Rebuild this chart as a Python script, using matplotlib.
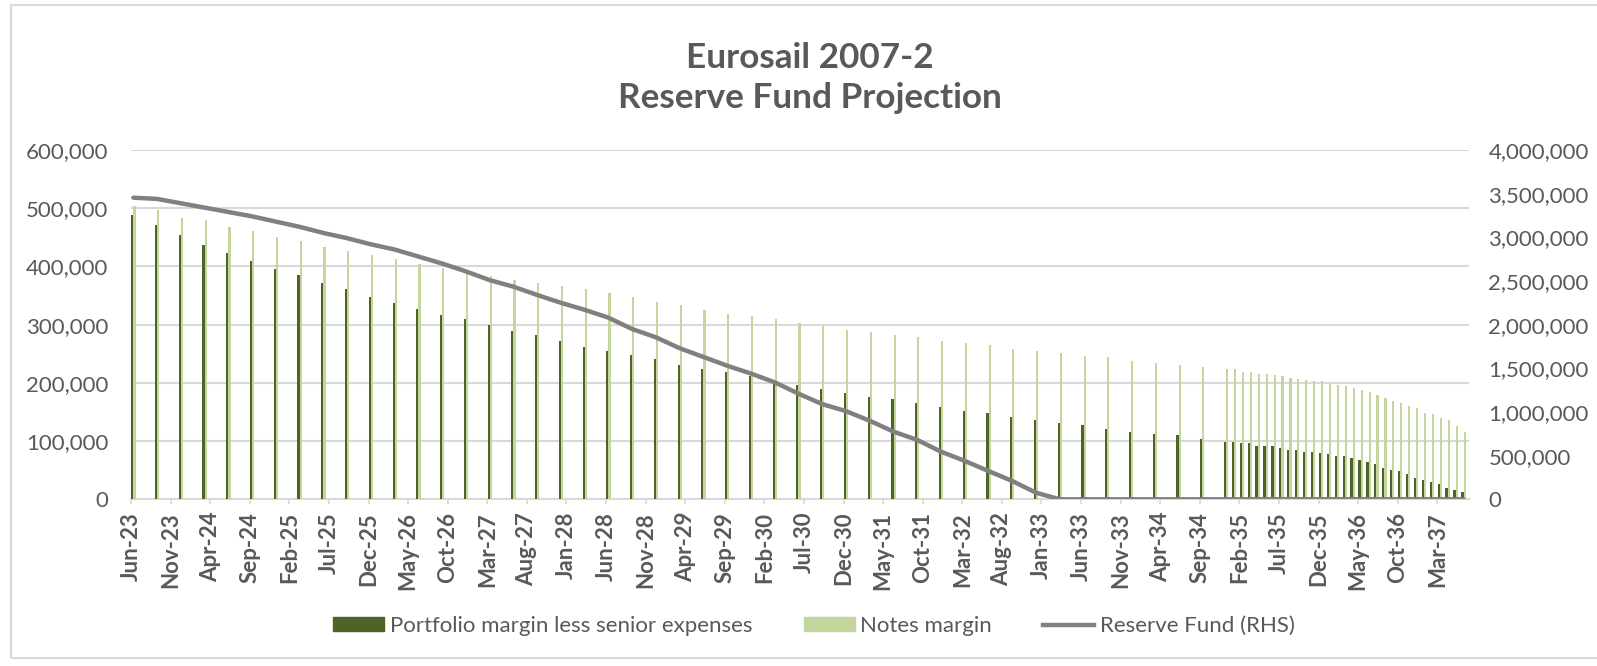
import matplotlib
matplotlib.use("Agg")
import matplotlib.pyplot as plt
from matplotlib.patches import Patch, Rectangle
from matplotlib.lines import Line2D
from matplotlib.ticker import FuncFormatter, MultipleLocator
import pandas as pd

plt.rcParams['font.family'] = ['Lato', 'DejaVu Sans']

# ---- Data ----
quarterly_dates = pd.date_range("2023-06-01", "2034-09-01", freq="3MS")
monthly_dates = pd.date_range("2034-12-01", "2037-06-01", freq="MS")
dates = list(quarterly_dates) + list(monthly_dates)

portfolio_margin = [
    488000, 471000, 454000, 437000, 423000, 409000, 396000, 385000, 372000, 361000,
    348000, 337000, 327000, 317000, 310000, 299000, 289000, 282000, 272000, 262000,
    255000, 248000, 241000, 231000, 224000, 218000, 212000, 205000, 196000, 189000,
    182000, 176000, 172000, 165000, 158000, 152000, 148000, 142000, 137000, 131000,
    127000, 121000, 116000, 113000, 110000, 103000,
    99000, 99000, 96000, 96000, 92000, 92000, 92000, 88000, 85000, 85000,
    82000, 82000, 79000, 78000, 75000, 75000, 71000, 68000, 64000, 61000,
    53000, 50000, 48000, 43000, 37000, 33000, 30000, 27000, 20000, 16000, 13000,
]

notes_margin = [
    504000, 497000, 484000, 479000, 467000, 461000, 450000, 444000, 433000, 427000,
    420000, 413000, 405000, 398000, 390000, 383000, 377000, 371000, 367000, 361000,
    354000, 348000, 339000, 334000, 326000, 319000, 315000, 309000, 302000, 298000,
    291000, 288000, 282000, 278000, 272000, 268000, 265000, 258000, 255000, 252000,
    247000, 244000, 238000, 234000, 230000, 227000,
    223000, 223000, 219000, 219000, 216000, 216000, 213000, 212000, 208000, 207000,
    205000, 203000, 203000, 198000, 197000, 195000, 191000, 188000, 184000, 180000,
    174000, 169000, 166000, 161000, 157000, 149000, 146000, 140000, 136000, 126000, 115000,
]

reserve_fund = [
    3454000, 3440000, 3390000, 3340000, 3290000, 3240000, 3180000, 3120000, 3050000, 2990000,
    2920000, 2860000, 2780000, 2700000, 2610000, 2510000, 2435000, 2340000, 2250000, 2170000,
    2080000, 1950000, 1855000, 1730000, 1630000, 1530000, 1440000, 1340000, 1210000, 1090000,
    1010000, 900000, 775000, 680000, 546000, 440000, 324000, 210000, 76000, 0,
    0, 0, 0, 0, 0, 0,
    0, 0, 0, 0, 0, 0, 0, 0, 0, 0,
    0, 0, 0, 0, 0, 0, 0, 0, 0, 0,
    0, 0, 0, 0, 0, 0, 0, 0, 0, 0, 0,
]

start = pd.Timestamp("2023-06-01")
tick_months = list(range(0, 166, 5))
tick_labels = [(start + pd.DateOffset(months=m)).strftime("%b-%y") for m in tick_months]

series_names = ["Portfolio margin less senior expenses", "Notes margin", "Reserve Fund (RHS)"]

# ---- Styling ----
DARK = "#4f6228"
LIGHT = "#c3d69b"
LINE = "#808080"
TEXT = "#595959"
GRID = "#d9d9d9"

W, H = 1597, 666
fig = plt.figure(figsize=(W / 100, H / 100), dpi=100)
fig.patch.set_facecolor("white")

def fx(px):
    return px / W

def fy(py):
    return 1 - py / H

ax = fig.add_axes([fx(131), fy(499.3), fx(1469) - fx(131), fy(150) - fy(499.3)])
ax2 = ax.twinx()

months = [(d.year - start.year) * 12 + (d.month - start.month) for d in dates]
bw = 0.28
ax.bar([m + 0.17 for m in months], portfolio_margin, width=bw, color=DARK, zorder=3)
ax.bar([m + 0.45 for m in months], notes_margin, width=bw, color=LIGHT, zorder=3)
ax2.plot([m + 0.3 for m in months], reserve_fund, color=LINE, lw=3.2, solid_capstyle="round",
         solid_joinstyle="round", zorder=4)

ax.set_xlim(0, 169)
ax.set_ylim(0, 600000)
ax2.set_ylim(0, 4000000)
ax.yaxis.set_major_locator(MultipleLocator(100000))
ax2.yaxis.set_major_locator(MultipleLocator(500000))
fmt = FuncFormatter(lambda v, p: f"{int(round(v)):,}")
ax.yaxis.set_major_formatter(fmt)
ax2.yaxis.set_major_formatter(fmt)

ax.grid(axis="y", color=GRID, lw=1.5, zorder=0)
ax.set_axisbelow(True)
for a in (ax, ax2):
    for s in ("left", "right", "top"):
        a.spines[s].set_visible(False)
ax.spines["bottom"].set_color(GRID)
ax.spines["bottom"].set_linewidth(1.5)
ax2.spines["bottom"].set_visible(False)
ax2.patch.set_visible(False)

ax.set_xticks(tick_months)
ax.set_xticklabels(tick_labels, rotation=90, ha="center", va="top",
                   fontsize=16, fontweight="bold", color=TEXT)
ax.tick_params(axis="x", length=3.6, width=1.2, color=GRID, pad=5.5)
ax.tick_params(axis="y", length=0, pad=16.5, labelsize=16, labelcolor=TEXT)
ax2.tick_params(axis="y", length=0, pad=14, labelsize=16, labelcolor=TEXT)

# Title
fig.text(fx(810), fy(68), "Eurosail 2007-2", ha="center", va="baseline",
         fontsize=25.3, fontweight="bold", color=TEXT)
fig.text(fx(810), fy(108), "Reserve Fund Projection", ha="center", va="baseline",
         fontsize=25.3, fontweight="bold", color=TEXT)

# Legend
handles = [Patch(facecolor=DARK, edgecolor=DARK), Patch(facecolor=LIGHT, edgecolor=LIGHT),
           Line2D([0], [0], color=LINE, lw=3.2)]
fig.legend(handles, series_names, loc="center", bbox_to_anchor=(fx(814), fy(626)),
           ncol=3, frameon=False, fontsize=16, labelcolor=TEXT,
           handlelength=2.3, handletextpad=0.25, columnspacing=2.3, handleheight=0.6)

# Chart border
fig.patches.append(Rectangle((fx(11), fy(658)), fx(1700) - fx(11), fy(5) - fy(658),
                             transform=fig.transFigure, fill=False, edgecolor=GRID, lw=1.5))

fig.savefig("out.png", dpi=100, facecolor="white")
